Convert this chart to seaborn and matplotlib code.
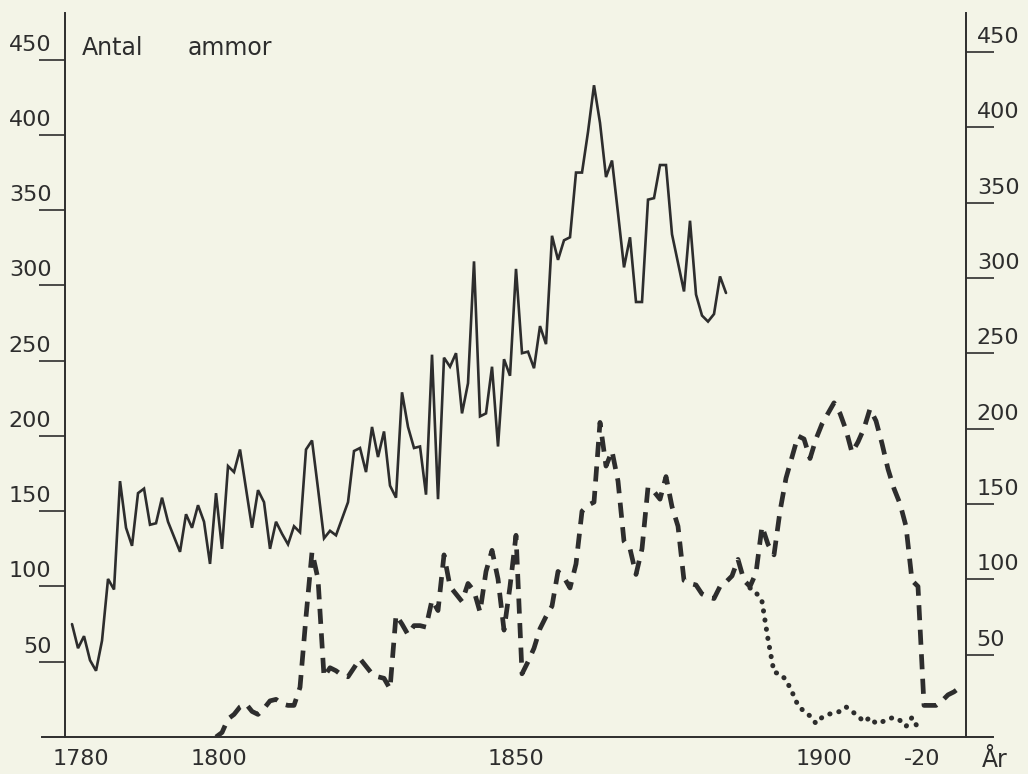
import numpy as np
import pandas as pd
import seaborn as sns
import matplotlib.pyplot as plt
from matplotlib.transforms import ScaledTranslation

# ---- data (antal ammor per år) ----
solid_years = list(range(1776, 1886))
solid_vals = [75, 59, 67, 51, 44, 64, 105, 98, 170, 139,      # 1776-1785
              127, 162, 165, 141, 142, 159, 143, 133, 123, 148,  # 1786-1795
              139, 154, 143, 115, 162, 125, 180, 176, 191, 165,  # 1796-1805
              139, 164, 156, 125, 143, 135, 128, 140, 136, 191,  # 1806-1815
              197, 165, 132, 137, 134, 145, 156, 190, 192, 176,  # 1816-1825
              206, 186, 203, 167, 159, 229, 206, 192, 193, 161,  # 1826-1835
              254, 158, 252, 246, 255, 215, 235, 316, 213, 215,  # 1836-1845
              246, 193, 251, 240, 311, 255, 256, 245, 273, 261,  # 1846-1855
              333, 317, 330, 332, 375, 375, 402, 433, 408, 372,  # 1856-1865
              383, 348, 312, 332, 289, 289, 357, 358, 380, 380,  # 1866-1875
              334, 315, 296, 343, 294, 280, 276, 281, 306, 295]  # 1876-1885

dashed_years = list(range(1800, 1925))
dashed_vals = [0, 3, 12, 15, 20, 22, 17, 15, 19, 24,            # 1800-1809
               25, 22, 21, 21, 33, 80, 123, 105, 40, 46,         # 1810-1819
               44, 41, 40, 46, 52, 47, 42, 40, 39, 32,           # 1820-1829
               81, 75, 68, 74, 74, 73, 91, 84, 121, 100,         # 1830-1839
               95, 90, 102, 97, 83, 110, 124, 105, 71, 100,      # 1840-1849
               134, 42, 50, 59, 72, 80, 87, 110, 106, 99,        # 1850-1859
               115, 150, 154, 156, 209, 180, 190, 170, 130, 125,  # 1860-1869
               108, 125, 166, 163, 158, 173, 153, 140, 104, 102,  # 1870-1879
               101, 95, 93, 92, 100, 103, 107, 118, 104, 100,    # 1880-1889
               109, 140, 128, 121, 150, 172, 186, 200, 198, 185,  # 1890-1899
               198, 208, 215, 222, 215, 204, 189, 196, 205, 218,  # 1900-1909
               210, 195, 178, 165, 155, 140, 104, 100, 21, 21,   # 1910-1919
               21, 24, 28, 30, 33]                               # 1920-1924

dotted_years = list(range(1889, 1918))
dotted_vals = [99, 96, 90, 65, 43, 42, 38, 30, 21, 17,          # 1889-1898
               14, 9, 13, 15, 16, 17, 20, 17, 14, 10,            # 1899-1908
               13, 9, 10, 12, 13, 11, 7, 13, 6]                  # 1909-1917

left_ticks = [50, 100, 150, 200, 250, 300, 350, 400, 450]
right_ticks = [50, 100, 150, 200, 250, 300, 350, 400, 450]
x_ticks = list(range(1780, 1921, 10))
x_labels = {1780: '1780', 1800: '1800', 1850: '1850', 1900: '1900', 1920: '-20'}
# hand lettering sits a bit off the tick marks (pixels)
x_label_shift = {1780: -15, 1800: 3, 1900: 8, 1920: -14}

paper = '#f3f4e7'
ink = '#2d2d2d'

sns.set_style('white')
plt.rcParams['font.family'] = ['DejaVu Sans']
plt.rcParams['text.color'] = ink

fig = plt.figure(figsize=(10.28, 7.74), dpi=100, facecolor=paper)
ax = fig.add_axes([65 / 1028, 37 / 774, 901 / 1028, 724 / 774])
ax.set_facecolor(paper)

sns.lineplot(x=solid_years, y=solid_vals, ax=ax, color=ink, lw=1.9,
             solid_joinstyle='miter')
sns.lineplot(x=dashed_years, y=dashed_vals, ax=ax, color=ink, lw=3.4,
             linestyle=(0, (3.2, 2.0)))
sns.lineplot(x=dotted_years, y=dotted_vals, ax=ax, color=ink, lw=3.6,
             linestyle=(0, (0.05, 1.8)), dash_capstyle='round')

ax.set_xlim(1774.83, 1925.0)
ax.set_ylim(0, 481)

for s in ['top', 'right']:
    ax.spines[s].set_visible(False)
for s in ['left', 'bottom']:
    ax.spines[s].set_color(ink)
    ax.spines[s].set_linewidth(1.4)
ax.spines['bottom'].set_bounds(1771.0, 1929.5)

# left scale
ax.set_yticks(left_ticks)
ax.tick_params(axis='y', direction='out', length=19, width=1.2,
               color=ink, labelleft=False)
for v in left_ticks:
    ax.text(-0.015, v + 6, str(v), transform=ax.get_yaxis_transform(),
            ha='right', va='baseline', fontsize=16, color=ink)

# x axis
ax.set_xticks(x_ticks)
ax.set_xticklabels([x_labels.get(t, '') for t in x_ticks])
ax.tick_params(axis='x', direction='inout', length=7, width=1.2,
               color=ink, pad=5, labelsize=16, labelcolor=ink)
for t, lab in zip(x_ticks, ax.get_xticklabels()):
    if t in x_label_shift:
        lab.set_transform(lab.get_transform() +
                          ScaledTranslation(x_label_shift[t] / 100, 0, fig.dpi_scale_trans))
ax.set_xlabel('')
ax.set_ylabel('')

# right scale (slightly shifted in the original)
ax2 = ax.twinx()
ax2.set_ylim(-4.6, 476)
for s in ['top', 'left', 'bottom']:
    ax2.spines[s].set_visible(False)
ax2.spines['right'].set_color(ink)
ax2.spines['right'].set_linewidth(1.4)
ax2.set_yticks(right_ticks)
ax2.tick_params(axis='y', direction='out', length=20, width=1.2,
                color=ink, labelright=False)
for v in right_ticks:
    ax2.text(1.012, v + 6, str(v), transform=ax2.get_yaxis_transform(),
             ha='left', va='baseline', fontsize=16, color=ink)

ax.text(1777.7, 453, 'Antal', fontsize=17, color=ink, va='baseline')
ax.text(1795.3, 453, 'ammor', fontsize=17, color=ink, va='baseline')
ax.text(1927.6, -20, 'År', fontsize=17, color=ink, va='baseline',
        clip_on=False)

fig.savefig('out.png', dpi=100, facecolor=paper)
